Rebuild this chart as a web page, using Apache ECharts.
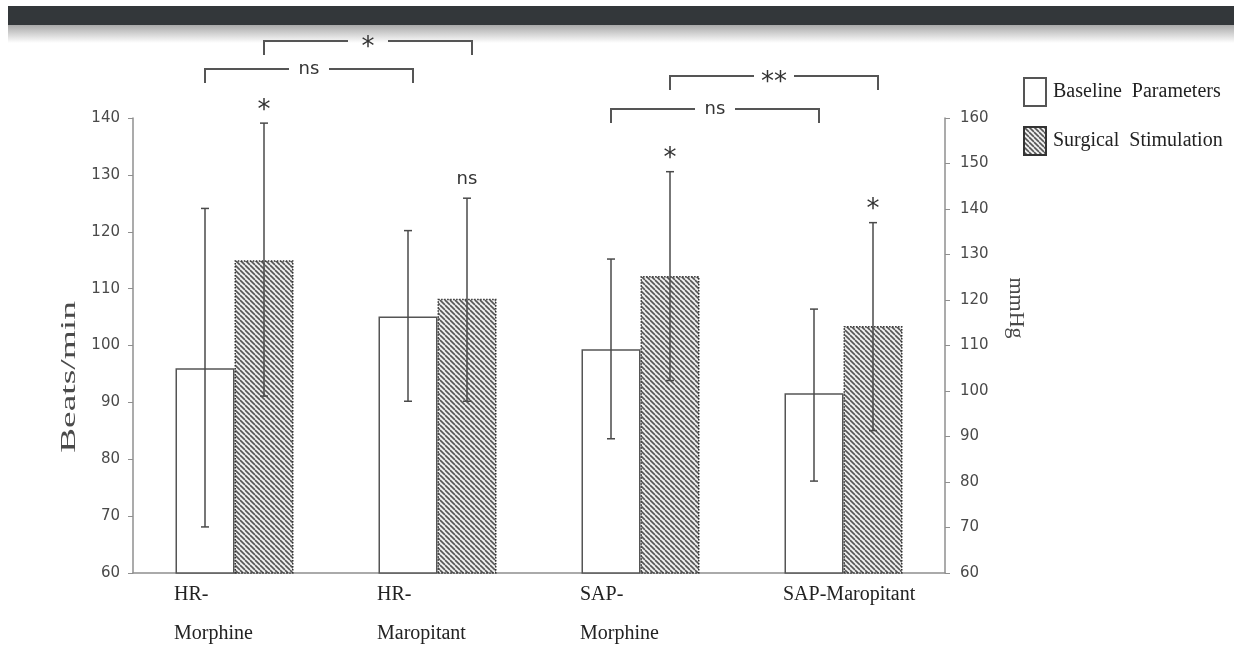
<!DOCTYPE html>
<html>
<head>
<meta charset="utf-8">
<script src="https://cdn.jsdelivr.net/npm/echarts@6/dist/echarts.min.js"></script>
<style>
html,body{margin:0;padding:0;background:#ffffff;}
#c{width:1234px;height:646px;}
</style>
</head>
<body>
<div id="c"></div>
<script>
// ---------------- data ----------------
const categories = ['HR-\nMorphine', 'HR-\nMaropitant', 'SAP-\nMorphine', 'SAP-Maropitant'];
const seriesNames = ['Baseline  Parameters', 'Surgical  Stimulation'];
const leftAxisName = 'Beats/min';
const rightAxisName = 'mmHg';
// HR groups (left axis, beats/min), categories 0-1
const hrBaseline = [96.0, 105.1];
const hrSurgical = [115.0, 108.2];
const hrBaselineErr = [[68.1, 124.1], [90.2, 120.2]];
const hrSurgicalErr = [[91.1, 139.1], [90.2, 125.9]];
// SAP groups (right axis, mmHg), categories 2-3
const sapBaseline = [109.2, 99.5];
const sapSurgical = [125.3, 114.3];
const sapBaselineErr = [[89.5, 129.0], [80.2, 118.0]];
const sapSurgicalErr = [[102.3, 148.2], [91.3, 137.0]];
// axis ranges
const leftAxisMin = 60, leftAxisMax = 140, leftAxisStep = 10;
const rightAxisMin = 60, rightAxisMax = 160, rightAxisStep = 10;
// significance marks above surgical bars
const barMarkTexts = ['*', 'ns', '*', '*'];
// comparison brackets: between categories a and b, on baseline or surgical bars
const bracketPairs = [[0, 1, 'surg'], [0, 1, 'base'], [2, 3, 'surg'], [2, 3, 'base']];
const bracketTexts = ['*', 'ns', '**', 'ns'];

// ---------------- style / layout ----------------
const BAR_W = 59;
const GRID = {left: 133, right: 289, top: 118, bottom: 73};
const bracketY = [41, 69, 76, 109];
const AXIS_COLOR = '#8f8f8f';
const SERIF = '"Liberation Serif", "Times New Roman", serif';
const SANS = '"DejaVu Sans", Verdana, sans-serif';

function makeHatch() {
  const s = 5;
  const c = document.createElement('canvas');
  c.width = s; c.height = s;
  const g = c.getContext('2d');
  g.fillStyle = '#efefef';
  g.fillRect(0, 0, s, s);
  g.strokeStyle = '#555555';
  g.lineWidth = 1.6;
  for (const k of [-s, 0, s]) {
    g.beginPath(); g.moveTo(k, 0); g.lineTo(k + s, s); g.stroke();
  }
  return c;
}
const hatch = {image: makeHatch(), repeat: 'repeat'};

const pad2 = ['-', '-'];
const baseStyle = {color: '#ffffff', borderColor: '#555555', borderWidth: 1.5};
const surgStyle = {color: hatch, borderColor: '#333333', borderWidth: 1.5, borderType: 'dotted'};

function errData(baseErr, surgErr, offset) {
  const out = [];
  baseErr.forEach((e, i) => out.push([i + offset, e[0], e[1], -1]));
  surgErr.forEach((e, i) => out.push([i + offset, e[0], e[1], 1]));
  return out;
}
function errRender(params, api) {
  const x = api.value(0), lo = api.value(1), hi = api.value(2), side = api.value(3);
  const pLo = api.coord([x, lo]);
  const pHi = api.coord([x, hi]);
  const cx = pLo[0] + side * BAR_W / 2;
  const cap = 4;
  const st = {stroke: '#4a4a4a', lineWidth: 1.5};
  return {
    type: 'group',
    children: [
      {type: 'line', shape: {x1: cx, y1: pHi[1], x2: cx, y2: pLo[1]}, style: st},
      {type: 'line', shape: {x1: cx - cap, y1: pHi[1], x2: cx + cap, y2: pHi[1]}, style: st},
      {type: 'line', shape: {x1: cx - cap, y1: pLo[1], x2: cx + cap, y2: pLo[1]}, style: st}
    ]
  };
}

const chart = echarts.init(document.getElementById('c'));
const option = {
  animation: false,
  backgroundColor: '#ffffff',
  grid: GRID,
  legend: {
    orient: 'vertical',
    left: 1023,
    top: 77,
    padding: 0,
    itemWidth: 22,
    itemHeight: 28,
    itemGap: 19,
    icon: 'rect',
    data: seriesNames,
    textStyle: {fontFamily: SERIF, fontSize: 20, color: '#222222', padding: [0, 0, 0, 2]}
  },
  xAxis: {
    type: 'category',
    data: categories,
    axisLine: {lineStyle: {color: AXIS_COLOR, width: 1.5}},
    axisTick: {show: false},
    axisLabel: {show: false},
    splitLine: {show: false}
  },
  yAxis: [
    {
      type: 'value', position: 'left',
      min: leftAxisMin, max: leftAxisMax, interval: leftAxisStep,
      axisLine: {show: true, lineStyle: {color: AXIS_COLOR, width: 1.5}},
      axisTick: {show: true, length: 5, lineStyle: {color: AXIS_COLOR}},
      axisLabel: {fontFamily: SANS, fontSize: 15, color: '#4a4a4a', margin: 13},
      splitLine: {show: false}
    },
    {
      type: 'value', position: 'right',
      min: rightAxisMin, max: rightAxisMax, interval: rightAxisStep,
      axisLine: {show: true, lineStyle: {color: AXIS_COLOR, width: 1.5}},
      axisTick: {show: true, length: 5, lineStyle: {color: AXIS_COLOR}},
      axisLabel: {fontFamily: SANS, fontSize: 15, color: '#4a4a4a', margin: 15},
      splitLine: {show: false}
    }
  ],
  series: [
    {name: seriesNames[0], type: 'bar', stack: 'base', yAxisIndex: 0, barWidth: BAR_W, barGap: '0%',
     data: hrBaseline.concat(pad2), itemStyle: baseStyle},
    {name: seriesNames[1], type: 'bar', stack: 'surg', yAxisIndex: 0, barWidth: BAR_W, barGap: '0%',
     data: hrSurgical.concat(pad2), itemStyle: surgStyle},
    {name: seriesNames[0], type: 'bar', stack: 'base', yAxisIndex: 1, barWidth: BAR_W, barGap: '0%',
     data: pad2.concat(sapBaseline), itemStyle: baseStyle},
    {name: seriesNames[1], type: 'bar', stack: 'surg', yAxisIndex: 1, barWidth: BAR_W, barGap: '0%',
     data: pad2.concat(sapSurgical), itemStyle: surgStyle},
    {type: 'custom', yAxisIndex: 0, z: 5, renderItem: errRender, encode: {x: 0, y: [1, 2]},
     data: errData(hrBaselineErr, hrSurgicalErr, 0), silent: true},
    {type: 'custom', yAxisIndex: 1, z: 5, renderItem: errRender, encode: {x: 0, y: [1, 2]},
     data: errData(sapBaselineErr, sapSurgicalErr, 2), silent: true}
  ]
};
chart.setOption(option);

// ---------------- annotations placed through the chart's own scales ----------------
const xOf = (i) => chart.convertToPixel({xAxisIndex: 0}, i);
const barX = (i, which) => xOf(i) + (which === 'surg' ? 1 : -1) * BAR_W / 2;
const yOf = (cat, v) => chart.convertToPixel({yAxisIndex: cat < 2 ? 0 : 1}, v);
const surgErrAll = hrSurgicalErr.concat(sapSurgicalErr);

const g = [];
// window header band
g.push({type: 'rect', shape: {x: 8, y: 6, width: 1226, height: 19}, style: {fill: '#33373a'}, silent: true});
g.push({type: 'rect', shape: {x: 8, y: 25, width: 1226, height: 18},
  style: {fill: new echarts.graphic.LinearGradient(0, 0, 0, 1, [{offset: 0, color: '#a9a9a9'}, {offset: 1, color: '#ffffff'}])}, silent: true});

// category labels
categories.forEach((c, i) => {
  g.push({type: 'text', x: barX(i, 'base') - 31, y: 575,
    style: {text: c, font: '20px ' + SERIF, fill: '#222222', align: 'left', verticalAlign: 'top', lineHeight: 39}});
});

// axis names
g.push({type: 'text', x: 69, y: 377, rotation: Math.PI / 2, scaleX: 1.7,
  style: {text: leftAxisName, font: '22px ' + SERIF, fill: '#4a4a4a', align: 'center', verticalAlign: 'middle'}});
g.push({type: 'text', x: 1016, y: 308, rotation: -Math.PI / 2,
  style: {text: rightAxisName, font: '22px ' + SERIF, fill: '#4a4a4a', align: 'center', verticalAlign: 'middle'}});

// marks above surgical bars
barMarkTexts.forEach((t, i) => {
  const top = yOf(i, surgErrAll[i][1]);
  const isStar = t.indexOf('*') >= 0;
  g.push({type: 'text', x: barX(i, 'surg'), y: top - 19 + (isStar ? 7 : 0),
    style: {text: t, font: (isStar ? '26px ' : '18px ') + SANS, fill: '#333333', align: 'center', verticalAlign: 'middle'}});
});

// brackets
bracketPairs.forEach((p, k) => {
  const x1 = barX(p[0], p[2]);
  const x2 = barX(p[1], p[2]) + 5;
  const y = bracketY[k];
  const tx = (x1 + x2) / 2;
  const gap = 20;
  const t = bracketTexts[k];
  const isStar = t.indexOf('*') >= 0;
  const st = {stroke: '#555555', lineWidth: 2, fill: null};
  g.push({type: 'polyline', shape: {points: [[x1, y + 14], [x1, y], [tx - gap, y]]}, style: st, silent: true});
  g.push({type: 'polyline', shape: {points: [[tx + gap, y], [x2, y], [x2, y + 14]]}, style: st, silent: true});
  g.push({type: 'text', x: tx, y: y + (isStar ? 7 : 0),
    style: {text: t, font: (isStar ? '26px ' : '18px ') + SANS, fill: '#333333', align: 'center', verticalAlign: 'middle'}});
});

chart.setOption({graphic: g});
</script>
</body>
</html>
